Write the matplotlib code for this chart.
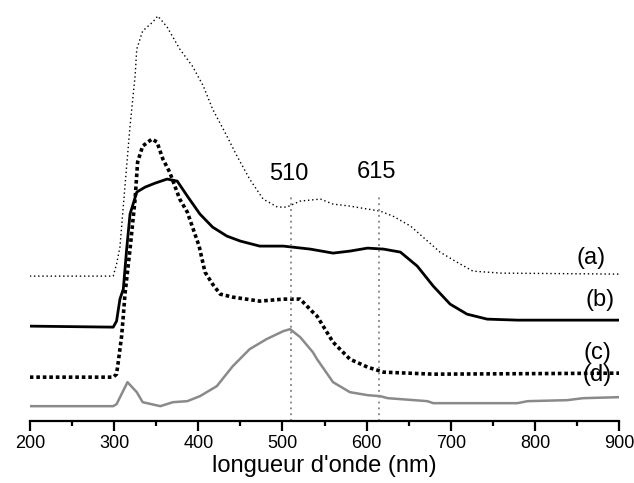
import matplotlib
matplotlib.use("Agg")
import matplotlib.pyplot as plt
from matplotlib.ticker import MultipleLocator

plt.rcParams['font.family'] = ['Liberation Sans', 'DejaVu Sans']

# wavelength (nm) / intensity (arb. units)
wl_a = [200, 299, 303, 307, 313, 319, 325, 327, 334, 346, 352, 363, 378, 393, 406, 417, 434,
        446, 461, 477, 494, 505, 521, 545, 560, 580, 601, 616, 631, 652, 679, 687, 707, 726,
        759, 900]
int_a = [145, 145, 157, 174, 235, 295, 345, 372, 390, 399, 405, 394, 372, 355, 335, 312, 285,
         265, 242, 222, 214, 214, 220, 222, 217, 215, 212, 210, 205, 195, 175, 169, 159, 150,
         148, 147]

wl_b = [200, 299, 303, 307, 311, 315, 319, 327, 337, 349, 363, 375, 387, 402, 417, 434, 450,
        473, 501, 533, 560, 580, 601, 620, 640, 660, 679, 699, 719, 743, 779, 900]
int_b = [95, 94, 100, 122, 132, 172, 207, 229, 234, 238, 242, 240, 225, 207, 194, 185, 180,
         175, 175, 172, 168, 170, 173, 172, 169, 155, 135, 117, 107, 102, 101, 101]

wl_c = [200, 299, 303, 305, 307, 309, 311, 313, 319, 325, 328, 334, 345, 351, 358, 366, 378,
        387, 394, 401, 408, 417, 426, 441, 473, 501, 521, 536, 541, 560, 580, 601, 620, 679,
        900]
int_c = [44, 44, 47, 59, 72, 85, 105, 127, 172, 222, 259, 275, 282, 279, 262, 249, 222,
         209, 192, 175, 149, 137, 127, 124, 120, 122, 122, 109, 105, 79, 62, 54, 49, 47,
         48]

wl_d = [200, 299, 303, 316, 327, 334, 355, 370, 387, 402, 422, 441, 461, 481, 501, 509, 521,
        536, 541, 560, 580, 601, 616, 625, 672, 679, 779, 791, 838, 857, 900]
int_d = [15, 15, 17, 39, 29, 19, 15, 19, 20, 25, 35, 55, 72, 82, 90, 92, 84,
         69, 62, 39, 29, 26, 25, 23, 20, 18, 18, 20, 21, 23, 24]

peaks = [510, 615]
peak_tops = [224, 226]

fig, ax = plt.subplots(figsize=(6.34, 4.83), dpi=100)
fig.subplots_adjust(left=0.047, right=0.977, bottom=0.128, top=1.0)

ax.plot(wl_a, int_a, color='black', lw=1.0, linestyle=(0, (1, 2)))
ax.plot(wl_b, int_b, color='black', lw=2.0)
ax.plot(wl_c, int_c, color='black', lw=2.6, linestyle=(0, (1, 0.8)))
ax.plot(wl_d, int_d, color='#8a8a8a', lw=1.8)

for p, top in zip(peaks, peak_tops):
    ax.vlines(p, 0, top, color='#8f8f8f', lw=1.4, linestyle=(0, (1, 2)))
    ax.text(p - 3, top + 23, str(p), ha='center', va='center', fontsize=17)

for lab, xx, yy in [('(a)', 866, 163), ('(b)', 877, 121), ('(c)', 874, 68), ('(d)', 874, 46)]:
    ax.text(xx, yy, lab, ha='center', va='center', fontsize=17)

ax.set_xlim(200, 900)
ax.set_ylim(0, 421)
ax.xaxis.set_major_locator(MultipleLocator(100))
ax.xaxis.set_minor_locator(MultipleLocator(50))
ax.tick_params(axis='x', which='major', length=7, width=1.6, labelsize=13, pad=3)
ax.tick_params(axis='x', which='minor', length=3.5, width=1.6)
ax.set_yticks([])
for s in ['left', 'top', 'right']:
    ax.spines[s].set_visible(False)
ax.spines['bottom'].set_linewidth(1.6)
ax.set_xlabel("longueur d'onde (nm)", fontsize=17, labelpad=2)

fig.savefig('out.png', dpi=100)
